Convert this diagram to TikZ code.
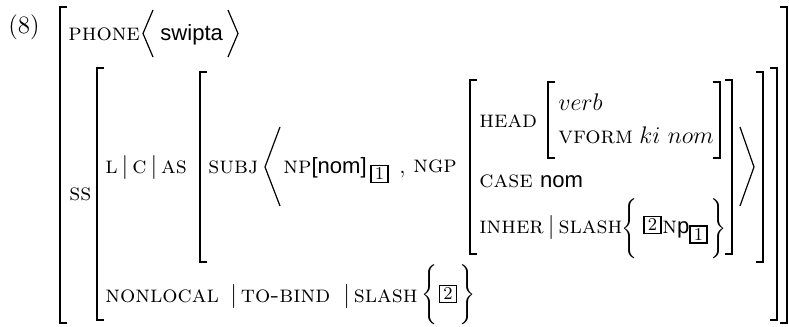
\documentclass[tikz,border=0pt]{standalone}
\usepackage{fontspec}
\setsansfont[Scale=0.96]{Liberation Sans}
\newcommand{\fn}[1]{{\fontsize{12}{15}\selectfont\textsc{#1}}}
\newcommand{\brpair}[4]{%
  \draw[brk] (#1+7,#2) -- (#1,#2) -- (#1,#4) -- (#1+7,#4);
  \draw[brk] (#3-7,#2) -- (#3,#2) -- (#3,#4) -- (#3-7,#4);}
\tikzset{
  feat/.style = {anchor=base west, inner sep=0pt, font=\fontsize{11.5}{14}\selectfont},
  tag/.style = {draw, line width=0.8pt, inner sep=0pt, minimum width=8.5pt,
  minimum height=8.5pt, font=\fontsize{9}{9}\selectfont},
  brc/.style = {inner sep=0pt, font=\fontsize{11.5}{14}\selectfont},
  brk/.style = {line width=0.9pt},
  ang/.style = {line width=0.6pt}
}

\begin{document}
\begin{tikzpicture}[x=0.5pt, y=-0.5pt]
  \useasboundingbox (0,0) rectangle (789,327);
  % outer matrices
  \brpair{60}{7}{787}{323}
  \brpair{97}{68}{777}{320}
  \brpair{200}{72}{763}{262}
  \brpair{470}{80}{732}{254}
  \brpair{548}{82}{720}{158}
  % angle brackets
  \draw[ang] (153,10) -- (143,33.5) -- (153,57);
  \draw[ang] (228,10) -- (238,33.5) -- (228,57);
  \draw[ang] (280,127) -- (265,167) -- (280,206);
  \draw[ang] (740,127) -- (754,167) -- (740,206);
  % labels
  \node[feat, font=\fontsize{12.5}{15}\selectfont] (ex) at (8,33) {(8)};
  \node[feat] (phone) at (68,40) {\fn{phone}};
  \node[feat] (swipta) at (160,40) {\textsf{swipta}};
  \node[feat] (ss) at (69,200) {\fn{ss}};
  \node[feat] (lcas) at (105,173) {\fn{l}$\,|\,$\fn{c}$\,|\,$\fn{as}};
  \node[feat] (subj) at (208,173) {\fn{subj}};
  \node[feat] (np) at (283,173) {\fn{np}\textsf{[nom]}};
  \node[tag] (t1a) at (379.5,174) {1};
  \node[feat] (comma) at (399,173) {,};
  \node[feat] (ngp) at (413,172) {\fn{ngp}};
  \node[feat] (head) at (479,127) {\fn{head}};
  \node[feat] (verb) at (558,110) {$verb$};
  \node[feat] (vform) at (558,143) {\fn{vform}};
  \node[feat] (kinom) at (639,143) {$ki\ nom$};
  \node[feat] (case) at (479,187) {\fn{case} \textsf{nom}};
  \node[feat] (inher) at (479,233) {\fn{inher}$\,|\,$\fn{slash}};
  \node[brc] (lb1) at (631,228.5) {$\left\{\vrule height 11pt depth 11pt width 0pt\right.$};
  \node[tag] (t2a) at (652.5,225) {2};
  \node[feat] (npx) at (662,233) {\fn{n}\textsf{p}};
  \node[tag] (t1b) at (698.5,234.5) {1};
  \node[brc] (rb1) at (717,228.5) {$\left.\vrule height 11pt depth 11pt width 0pt\right\}$};
  \node[feat] (nonloc) at (105,302) {\fn{nonlocal}};
  \node[feat] (tobind) at (230,302) {$|$\,\fn{to-bind}};
  \node[feat] (slash) at (343,302) {$|$\,\fn{slash}};
  \node[brc] (lb2) at (431,295) {$\left\{\vrule height 11pt depth 11pt width 0pt\right.$};
  \node[tag] (t2b) at (448,294) {2};
  \node[brc] (rb2) at (466,295) {$\left.\vrule height 11pt depth 11pt width 0pt\right\}$};
\end{tikzpicture}
\end{document}
